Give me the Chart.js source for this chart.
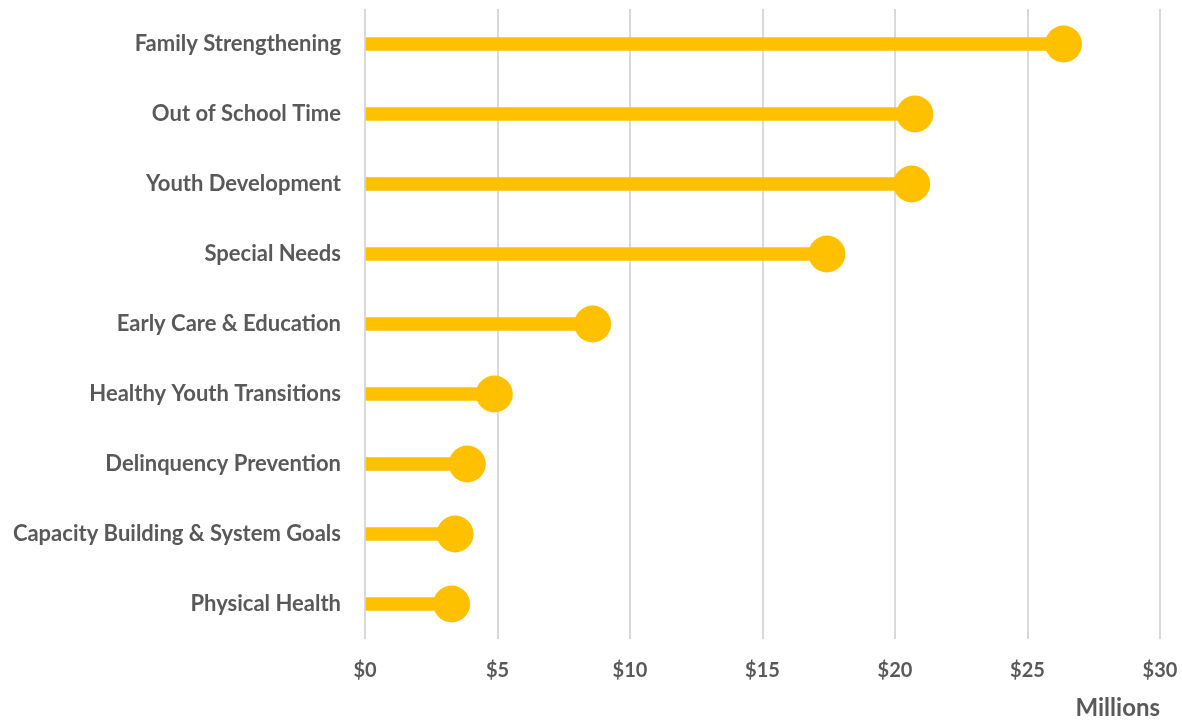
<!DOCTYPE html>
<html lang="en">
<head>
    <meta charset="UTF-8">
    <title>Funding by Category</title>
    <script src="https://cdn.jsdelivr.net/npm/chart.js"></script>
    <style>
        body {
            margin: 0;
            background-color: #fff;
        }
        #wrap {
            width: 1182px;
            height: 721px;
        }
    </style>
</head>
<body>
    <div id="wrap"><canvas id="lollipop" width="1182" height="721"></canvas></div>

    <script>
        // categories, top to bottom
        const categories = [
            'Family Strengthening',
            'Out of School Time',
            'Youth Development',
            'Special Needs',
            'Early Care & Education',
            'Healthy Youth Transitions',
            'Delinquency Prevention',
            'Capacity Building & System Goals',
            'Physical Health'
        ];
        // funding, $ millions
        const funding = [26.36, 20.75, 20.63, 17.43, 8.59, 4.88, 3.86, 3.40, 3.27];
        const xTicks = [0, 5, 10, 15, 20, 25, 30];

        const gold = '#FFC000';
        const textGray = '#595959';
        const fontName = 'Lato, "Open Sans", sans-serif';

        const ctx = document.getElementById('lollipop').getContext('2d');

        new Chart(ctx, {
            data: {
                labels: categories,
                datasets: [
                    {
                        // the heads, drawn on top
                        type: 'line',
                        data: funding,
                        showLine: false,
                        pointRadius: 18.5,
                        pointHoverRadius: 18.5,
                        pointBackgroundColor: gold,
                        pointBorderWidth: 0,
                        clip: false,
                        order: 0
                    },
                    {
                        // the sticks
                        type: 'bar',
                        data: funding,
                        backgroundColor: gold,
                        barThickness: 13,
                        order: 1
                    }
                ]
            },
            options: {
                indexAxis: 'y',
                responsive: false,
                animation: false,
                layout: {
                    autoPadding: false, // big dots would otherwise push the plot inwards
                    padding: { top: 9, right: 22, bottom: 0, left: 0 }
                },
                plugins: {
                    legend: { display: false },
                    tooltip: { enabled: false }
                },
                scales: {
                    x: {
                        min: 0,
                        max: 30,
                        afterBuildTicks: (scale) => {
                            scale.ticks = xTicks.map(v => ({ value: v }));
                        },
                        afterFit: (scale) => {
                            scale.height = 82;
                            scale.paddingLeft = 0;
                            scale.paddingRight = 0;
                        },
                        grid: {
                            color: '#D9D9D9',
                            lineWidth: 2,
                            drawTicks: false
                        },
                        border: { display: false },
                        ticks: {
                            padding: 20,
                            color: textGray,
                            font: { family: fontName, size: 20, weight: 'bold' },
                            callback: (v) => '$' + v
                        },
                        title: {
                            display: true,
                            text: 'Millions',
                            align: 'end',
                            color: textGray,
                            font: { family: fontName, size: 24, weight: 'bold', lineHeight: 1 },
                            padding: { top: 0, bottom: 1 }
                        }
                    },
                    y: {
                        afterFit: (scale) => {
                            scale.width = 365;
                            scale.paddingTop = 0;
                            scale.paddingBottom = 0;
                        },
                        grid: { display: false, drawTicks: false },
                        border: { display: false },
                        ticks: {
                            padding: 24,
                            color: textGray,
                            font: { family: fontName, size: 22, weight: 'bold' }
                        }
                    }
                }
            }
        });
    </script>
</body>
</html>
